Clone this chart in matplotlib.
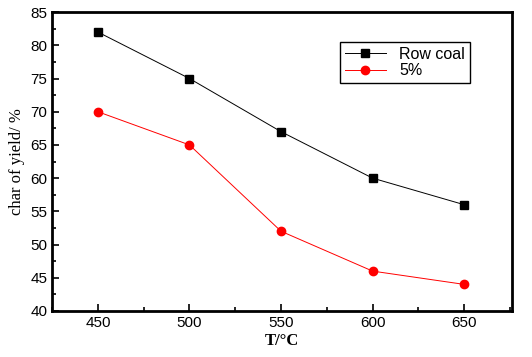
import matplotlib
matplotlib.use('Agg')
import matplotlib.pyplot as plt
from matplotlib.ticker import MultipleLocator

temps = [450, 500, 550, 600, 650]
raw_coal = [82, 75, 67, 60, 56]
five_pct = [70, 65, 52, 46, 44]

fig = plt.figure(figsize=(5.32, 3.57), dpi=100)
ax = fig.add_axes([0.098, 0.129, 0.864, 0.837])

ax.plot(temps, raw_coal, color='black', lw=0.7, marker='s', ms=5.5, label='Row coal')
ax.plot(temps, five_pct, color='red', lw=0.7, marker='o', ms=6, label='5%')

ax.set_xlim(425, 676)
ax.set_ylim(40, 85)
ax.xaxis.set_major_locator(MultipleLocator(50))
ax.xaxis.set_minor_locator(MultipleLocator(25))
ax.yaxis.set_major_locator(MultipleLocator(5))
ax.yaxis.set_minor_locator(MultipleLocator(2.5))
ax.tick_params(which='both', direction='in', top=False, right=False, width=1.2)
ax.tick_params(which='major', length=5, labelsize=11)
ax.tick_params(which='minor', length=3)
for lab in ax.get_xticklabels() + ax.get_yticklabels():
    lab.set_fontfamily('Liberation Sans')
for s in ax.spines.values():
    s.set_linewidth(2)

ax.set_xlabel('T/°C', fontfamily='Liberation Serif', fontsize=12, fontweight='bold', labelpad=2)
ax.set_ylabel('char of yield/ %', fontfamily='Liberation Serif', fontsize=12)

leg = ax.legend(loc='upper left', bbox_to_anchor=(0.626, 0.9), borderaxespad=0,
                fancybox=False, edgecolor='black', framealpha=1, borderpad=0.3,
                handlelength=2.6, labelspacing=0.1,
                prop={'family': 'Liberation Sans', 'size': 11.5})
leg.get_frame().set_linewidth(1)

fig.savefig('out.png', dpi=100)
